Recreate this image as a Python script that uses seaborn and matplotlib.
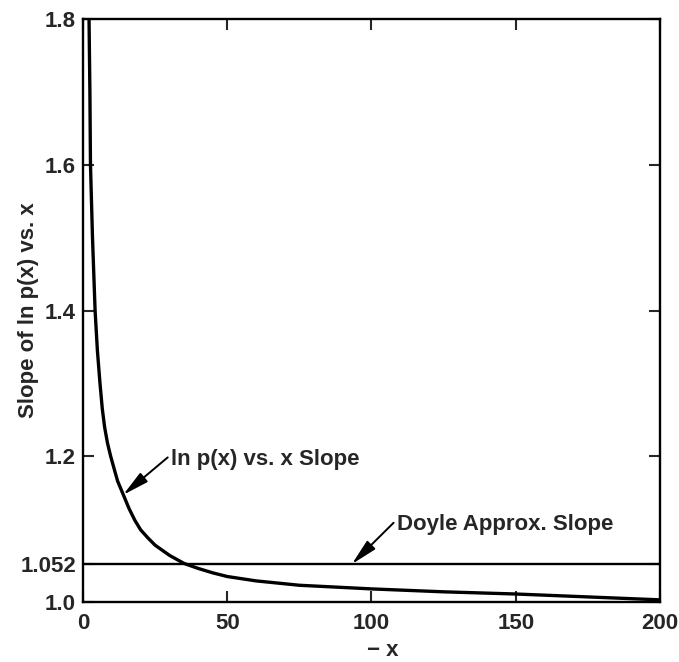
import matplotlib
matplotlib.use('Agg')
from matplotlib import pyplot as plt
import seaborn as sns
import pandas as pd

# curve
neg_x = [2.1, 2.4, 2.6, 3.3, 4.2, 5.0, 5.9, 6.7, 7.5, 8.5, 9.6, 11, 12, 14, 16,
         18, 20, 22.5, 25, 30, 35, 40, 45, 50, 60, 75, 100, 125, 150, 175, 200]
slope = [1.8, 1.7, 1.6, 1.5, 1.4, 1.345, 1.3, 1.265, 1.24, 1.218, 1.2, 1.18,
         1.166, 1.147, 1.128, 1.112, 1.099, 1.088, 1.078, 1.064, 1.053, 1.046,
         1.04, 1.035, 1.029, 1.023, 1.018, 1.014, 1.011, 1.007, 1.003]
doyle_x = [0, 200]
doyle_y = [1.052, 1.052]

x_ticks = [0, 50, 100, 150, 200]
y_ticks = [1.0, 1.052, 1.2, 1.4, 1.6, 1.8]
y_tick_labels = ['1.0', '1.052', '1.2', '1.4', '1.6', '1.8']

sns.set_style('ticks')
plt.rcParams['font.family'] = ['Liberation Sans', 'DejaVu Sans']
plt.rcParams['font.weight'] = 'bold'

fig = plt.figure(figsize=(6.79, 6.62), dpi=100)
ax = fig.add_axes([0.1222, 0.0906, 0.8498, 0.8807])

df = pd.DataFrame({'x': neg_x, 'y': slope})
sns.lineplot(data=df, x='x', y='y', ax=ax, color='black', linewidth=2.4,
             solid_joinstyle='round')
sns.lineplot(x=doyle_x, y=doyle_y, ax=ax, color='black', linewidth=1.7)

ax.set_xlim(0, 200)
ax.set_ylim(1.0, 1.8)
ax.set_xticks(x_ticks)
ax.set_xticklabels([str(t) for t in x_ticks])
ax.set_yticks(y_ticks)
ax.set_yticklabels(y_tick_labels)
ax.tick_params(direction='in', length=8, width=1.5, top=True, right=True,
               labelsize=16, pad=5)
ax.tick_params(axis='x', pad=8)
for s in ax.spines.values():
    s.set_linewidth(1.7)
    s.set_color('black')

ax.set_xlabel('\u2212 x', fontsize=16, fontweight='bold')
ax.set_ylabel('Slope of ln p(x) vs. x', fontsize=16, fontweight='bold')
ax.xaxis.set_label_coords(0.52, -0.083)
ax.yaxis.set_label_coords(-0.095, 0.5)
ax.xaxis.label.set_va('center')
ax.yaxis.label.set_va('center')

arrow = dict(arrowstyle='-|>,head_length=1.0,head_width=0.22', color='black',
             lw=1.4, shrinkA=0, shrinkB=0)
ax.annotate('ln p(x) vs. x Slope', xy=(13.9, 1.147), xytext=(30.5, 1.195),
            fontsize=16, fontweight='bold', va='center', ha='left',
            arrowprops=dict(arrow, relpos=(0, 0.75)))
ax.annotate('Doyle Approx. Slope', xy=(93.2, 1.052), xytext=(108.8, 1.106),
            fontsize=16, fontweight='bold', va='center', ha='left',
            arrowprops=dict(arrow, relpos=(0, 0.75)))

plt.savefig('out.png', dpi=100)
plt.close()
